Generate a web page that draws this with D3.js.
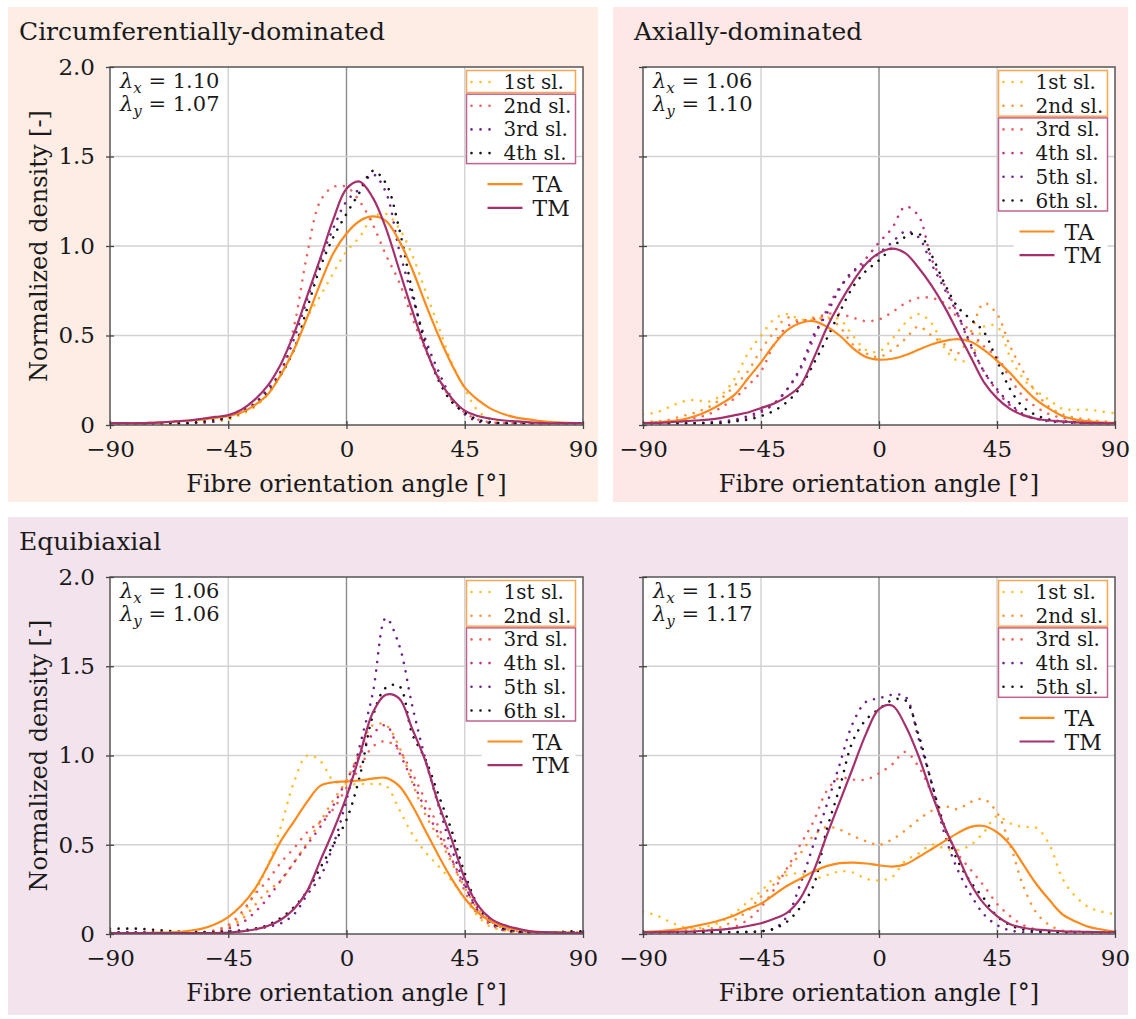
<!DOCTYPE html>
<html>
<head>
<meta charset="utf-8">
<script src="https://cdnjs.cloudflare.com/ajax/libs/d3/7.8.5/d3.min.js"></script>
<style>
  body { margin: 0; background: #fff; }
  svg text { font-family: "DejaVu Serif", serif; fill: #1a1a1a; }
</style>
</head>
<body>
<svg id="chart" width="1136" height="1019"></svg>
<script>
// fibre angles (deg), sampled every 5 degrees
const angles = [-90,-85,-80,-75,-70,-65,-60,-55,-50,-45,-40,-35,-30,-25,-20,-15,-10,-5,0,
                5,10,15,20,25,30,35,40,45,50,55,60,65,70,75,80,85,90];

// circumferentially-dominated
const circSl1 = [0.005,0.005,0.005,0.005,0.005,0.008,0.01,0.015,0.02,0.03,0.06,0.1,0.17,0.28,0.42,0.6,0.72,0.85,0.97,
                 1.05,1.16,1.18,1.1,0.95,0.75,0.55,0.35,0.2,0.08,0.03,0.015,0.01,0.01,0.01,0.01,0.01,0.01];
const circSl2 = [0.01,0.01,0.01,0.01,0.01,0.01,0.01,0.01,0.02,0.04,0.07,0.12,0.2,0.3,0.55,0.95,1.25,1.33,1.33,
                 1.25,1.12,0.95,0.8,0.6,0.42,0.27,0.14,0.07,0.03,0.015,0.01,0.01,0.01,0.01,0.01,0.01,0.01];
const circSl3 = [0.01,0.01,0.01,0.01,0.01,0.01,0.01,0.015,0.02,0.05,0.08,0.12,0.2,0.3,0.48,0.7,0.92,1.1,1.25,
                 1.32,1.4,1.3,0.98,0.72,0.48,0.3,0.15,0.06,0.02,0.01,0.01,0.01,0.01,0.01,0.01,0.01,0.01];
const circSl4 = [0.01,0.01,0.01,0.01,0.01,0.01,0.01,0.02,0.03,0.04,0.07,0.11,0.18,0.28,0.42,0.65,0.88,1.05,1.18,
                 1.3,1.42,1.35,1.1,0.75,0.45,0.25,0.13,0.07,0.03,0.015,0.01,0.01,0.01,0.01,0.01,0.01,0.01];
const circTA = [0.01,0.01,0.01,0.012,0.015,0.02,0.025,0.03,0.04,0.05,0.07,0.11,0.17,0.28,0.42,0.6,0.79,0.96,1.07,
                1.14,1.165,1.14,1.03,0.87,0.68,0.5,0.34,0.21,0.14,0.09,0.06,0.04,0.03,0.02,0.015,0.012,0.01];
const circTM = [0.01,0.01,0.01,0.012,0.015,0.02,0.025,0.035,0.045,0.055,0.085,0.14,0.22,0.34,0.51,0.72,0.93,1.15,1.32,
                1.36,1.27,1.1,0.87,0.64,0.43,0.26,0.15,0.08,0.05,0.035,0.025,0.02,0.015,0.01,0.01,0.01,0.01];

// axially-dominated
const axSl1 = [0.06,0.07,0.1,0.13,0.14,0.13,0.17,0.26,0.4,0.5,0.59,0.62,0.59,0.59,0.6,0.59,0.5,0.42,0.41,
               0.48,0.57,0.62,0.57,0.43,0.36,0.37,0.55,0.55,0.38,0.26,0.19,0.14,0.09,0.085,0.085,0.075,0.065];
const axSl2 = [0.02,0.02,0.03,0.05,0.07,0.1,0.15,0.22,0.3,0.42,0.52,0.6,0.58,0.6,0.6,0.55,0.45,0.4,0.38,
               0.42,0.48,0.55,0.5,0.45,0.4,0.52,0.68,0.62,0.44,0.3,0.18,0.1,0.06,0.04,0.03,0.02,0.02];
const axSl3 = [0.01,0.01,0.02,0.03,0.04,0.06,0.1,0.15,0.22,0.3,0.45,0.55,0.58,0.59,0.62,0.62,0.6,0.58,0.59,
               0.63,0.68,0.71,0.71,0.68,0.6,0.52,0.44,0.38,0.26,0.16,0.1,0.06,0.04,0.03,0.02,0.01,0.01];
const axSl4 = [0.01,0.01,0.01,0.01,0.01,0.01,0.015,0.025,0.04,0.07,0.12,0.2,0.31,0.48,0.64,0.77,0.85,0.93,1.02,
               1.1,1.22,1.17,0.93,0.78,0.62,0.44,0.3,0.19,0.11,0.055,0.035,0.025,0.02,0.015,0.01,0.01,0.01];
const axSl5 = [0.01,0.01,0.01,0.01,0.01,0.015,0.02,0.03,0.05,0.08,0.12,0.2,0.32,0.5,0.62,0.76,0.86,0.9,0.96,
               1.02,1.08,1.05,0.9,0.76,0.62,0.45,0.3,0.2,0.12,0.06,0.035,0.02,0.015,0.01,0.01,0.01,0.01];
const axSl6 = [0.01,0.01,0.01,0.01,0.01,0.01,0.01,0.02,0.03,0.05,0.08,0.13,0.21,0.34,0.48,0.63,0.77,0.86,0.92,
               0.99,1.05,1.07,0.95,0.79,0.66,0.59,0.52,0.36,0.2,0.1,0.055,0.03,0.02,0.015,0.01,0.01,0.01];
const axTA = [0.01,0.015,0.02,0.03,0.05,0.08,0.12,0.17,0.26,0.35,0.45,0.53,0.57,0.58,0.55,0.5,0.43,0.38,0.365,
              0.37,0.39,0.42,0.45,0.47,0.48,0.465,0.42,0.36,0.29,0.21,0.14,0.09,0.05,0.03,0.02,0.015,0.01];
const axTM = [0.01,0.012,0.015,0.02,0.025,0.03,0.04,0.055,0.07,0.095,0.12,0.16,0.22,0.37,0.54,0.68,0.8,0.9,0.96,
              0.985,0.96,0.88,0.78,0.66,0.52,0.38,0.24,0.15,0.09,0.055,0.035,0.025,0.02,0.015,0.012,0.01,0.01];

// equibiaxial, lambda 1.06 / 1.06
const eqSl1 = [0.01,0.01,0.01,0.01,0.01,0.01,0.01,0.01,0.02,0.05,0.1,0.23,0.38,0.6,0.85,1.0,0.97,0.86,0.84,
               0.84,0.84,0.83,0.7,0.56,0.46,0.38,0.3,0.2,0.1,0.04,0.02,0.01,0.01,0.01,0.01,0.01,0.01];
const eqSl2 = [0.01,0.01,0.01,0.01,0.01,0.01,0.01,0.01,0.02,0.04,0.08,0.16,0.24,0.3,0.4,0.51,0.63,0.75,0.86,
               1.02,1.17,1.17,1.05,0.85,0.67,0.54,0.4,0.26,0.14,0.07,0.03,0.015,0.01,0.01,0.01,0.01,0.01];
const eqSl3 = [0.01,0.01,0.01,0.01,0.01,0.01,0.01,0.01,0.02,0.05,0.12,0.22,0.3,0.4,0.48,0.57,0.63,0.7,0.82,
               0.93,1.05,1.08,1.03,0.9,0.75,0.6,0.42,0.24,0.11,0.05,0.02,0.01,0.01,0.01,0.01,0.01,0.01];
const eqSl4 = [0.01,0.01,0.01,0.01,0.01,0.01,0.01,0.01,0.01,0.03,0.06,0.12,0.2,0.3,0.4,0.5,0.6,0.72,0.86,
               1.0,1.12,1.17,1.02,0.86,0.7,0.56,0.42,0.27,0.14,0.06,0.02,0.01,0.01,0.01,0.01,0.01,0.01];
const eqSl5 = [0.01,0.01,0.01,0.01,0.01,0.01,0.01,0.01,0.01,0.01,0.015,0.025,0.04,0.06,0.11,0.22,0.32,0.5,0.75,
               1.05,1.35,1.77,1.62,1.28,0.98,0.72,0.48,0.28,0.13,0.065,0.03,0.015,0.01,0.01,0.01,0.01,0.01];
const eqSl6 = [0.03,0.03,0.03,0.025,0.02,0.015,0.01,0.01,0.01,0.015,0.02,0.03,0.05,0.09,0.15,0.24,0.37,0.5,0.64,
               0.88,1.22,1.38,1.39,1.12,0.98,0.78,0.58,0.34,0.16,0.07,0.03,0.015,0.01,0.01,0.01,0.015,0.015];
const eqTA = [0.005,0.005,0.005,0.006,0.008,0.01,0.018,0.03,0.055,0.095,0.16,0.25,0.38,0.52,0.63,0.74,0.83,0.85,0.855,
              0.86,0.87,0.875,0.83,0.72,0.58,0.44,0.31,0.2,0.12,0.07,0.04,0.025,0.015,0.01,0.008,0.006,0.005];
const eqTM = [0.005,0.005,0.005,0.005,0.005,0.005,0.005,0.005,0.005,0.008,0.015,0.025,0.045,0.08,0.14,0.24,0.41,0.58,0.77,
              1.0,1.24,1.34,1.32,1.15,0.97,0.73,0.53,0.31,0.16,0.085,0.05,0.03,0.015,0.01,0.008,0.005,0.005];

// equibiaxial, lambda 1.15 / 1.17
const eq2Sl1 = [0.125,0.105,0.07,0.04,0.03,0.045,0.07,0.12,0.18,0.24,0.31,0.33,0.34,0.31,0.33,0.35,0.345,0.31,0.3,
                0.32,0.41,0.45,0.5,0.48,0.47,0.5,0.57,0.66,0.62,0.6,0.595,0.5,0.31,0.21,0.15,0.125,0.11];
const eq2Sl2 = [0.01,0.01,0.015,0.02,0.025,0.03,0.04,0.08,0.13,0.21,0.28,0.36,0.45,0.55,0.6,0.585,0.55,0.52,0.5,
                0.53,0.58,0.64,0.69,0.715,0.7,0.74,0.755,0.68,0.5,0.27,0.12,0.05,0.02,0.015,0.01,0.01,0.01];
const eq2Sl3 = [0.01,0.01,0.01,0.01,0.01,0.01,0.02,0.04,0.08,0.15,0.25,0.37,0.5,0.63,0.8,0.875,0.865,0.865,0.9,
                0.95,1.02,0.94,0.79,0.6,0.45,0.36,0.27,0.17,0.1,0.05,0.025,0.015,0.01,0.01,0.01,0.01,0.01];
const eq2Sl4 = [0.01,0.01,0.01,0.01,0.01,0.01,0.01,0.01,0.01,0.015,0.03,0.1,0.28,0.5,0.72,0.95,1.18,1.3,1.32,
                1.34,1.33,1.1,0.85,0.56,0.36,0.22,0.11,0.05,0.02,0.01,0.01,0.01,0.01,0.01,0.01,0.01,0.01];
const eq2Sl5 = [0.01,0.01,0.01,0.01,0.01,0.01,0.01,0.01,0.012,0.015,0.03,0.07,0.15,0.27,0.58,0.82,1.08,1.2,1.26,
                1.31,1.31,1.12,0.85,0.6,0.41,0.29,0.2,0.1,0.05,0.025,0.015,0.01,0.01,0.01,0.01,0.01,0.01];
const eq2TA = [0.01,0.015,0.02,0.03,0.045,0.06,0.08,0.105,0.14,0.17,0.22,0.27,0.31,0.35,0.38,0.397,0.4,0.395,0.385,
               0.378,0.39,0.43,0.475,0.52,0.565,0.6,0.605,0.57,0.5,0.39,0.28,0.19,0.11,0.07,0.04,0.025,0.013];
const eq2TM = [0.01,0.01,0.012,0.013,0.015,0.02,0.025,0.033,0.045,0.06,0.085,0.12,0.2,0.35,0.55,0.74,0.93,1.12,1.26,
               1.28,1.17,1.0,0.79,0.6,0.44,0.28,0.17,0.1,0.055,0.035,0.025,0.02,0.015,0.013,0.012,0.01,0.01];

const sliceNames = ["1st sl.","2nd sl.","3rd sl.","4th sl.","5th sl.","6th sl."];
const xTicks = [-90,-45,0,45,90];
const yTicks = [0,0.5,1.0,1.5,2.0];

const C = {gold:"#fcc02c", orange:"#ff9333", red:"#f0605c", magenta:"#c2327a",
           purple:"#6a2488", black:"#151515", TA:"#ff8a1c", TM:"#a5306c",
           boxTA:"#ffa54f", boxTM:"#c0648f"};

const panels = [
  {x0:110, x1:583, top:67, bot:425, ylab:true, lx:"1.10", ly:"1.07",
   taSl:[circSl1], tmSl:[circSl2,circSl3,circSl4],
   taCol:[C.gold], tmCol:[C.red,C.purple,C.black], ta:circTA, tm:circTM},
  {x0:643, x1:1115, top:67, bot:425, ylab:false, lx:"1.06", ly:"1.10",
   taSl:[axSl1,axSl2], tmSl:[axSl3,axSl4,axSl5,axSl6],
   taCol:[C.gold,C.orange], tmCol:[C.red,C.magenta,C.purple,C.black], ta:axTA, tm:axTM},
  {x0:110, x1:583, top:577, bot:934, ylab:true, lx:"1.06", ly:"1.06",
   taSl:[eqSl1,eqSl2], tmSl:[eqSl3,eqSl4,eqSl5,eqSl6],
   taCol:[C.gold,C.orange], tmCol:[C.red,C.magenta,C.purple,C.black], ta:eqTA, tm:eqTM},
  {x0:643, x1:1115, top:577, bot:934, ylab:false, lx:"1.15", ly:"1.17",
   taSl:[eq2Sl1,eq2Sl2], tmSl:[eq2Sl3,eq2Sl4,eq2Sl5],
   taCol:[C.gold,C.orange], tmCol:[C.red,C.purple,C.black], ta:eq2TA, tm:eq2TM}
];

const svg = d3.select("#chart");

// coloured panel backgrounds
svg.append("rect").attr("x",8).attr("y",7).attr("width",590).attr("height",495).attr("fill","#fdede5");
svg.append("rect").attr("x",613).attr("y",7).attr("width",515).attr("height",495).attr("fill","#fde8e7");
svg.append("rect").attr("x",8).attr("y",517).attr("width",1120).attr("height",498).attr("fill","#f2e3ed");

svg.append("text").attr("x",19).attr("y",40).attr("font-size",25).text("Circumferentially-dominated");
svg.append("text").attr("x",634).attr("y",40).attr("font-size",25).text("Axially-dominated");
svg.append("text").attr("x",19).attr("y",550).attr("font-size",25).text("Equibiaxial");

panels.forEach((p, pi) => {
  const x = d3.scaleLinear().domain([-90,90]).range([p.x0,p.x1]);
  const y = d3.scaleLinear().domain([0,2]).range([p.bot,p.top]);
  const g = svg.append("g");

  g.append("rect").attr("x",p.x0).attr("y",p.top)
    .attr("width",p.x1-p.x0).attr("height",p.bot-p.top).attr("fill","#fff");

  // grid
  g.selectAll(".gx").data(xTicks.slice(1,-1)).enter().append("line")
    .attr("x1",d=>x(d)).attr("x2",d=>x(d)).attr("y1",p.top).attr("y2",p.bot)
    .attr("stroke",d=>d===0?"#8a8a8a":"#d2d2d2").attr("stroke-width",1.4);
  g.selectAll(".gy").data(yTicks.slice(1,-1)).enter().append("line")
    .attr("x1",p.x0).attr("x2",p.x1).attr("y1",d=>y(d)).attr("y2",d=>y(d))
    .attr("stroke","#d2d2d2").attr("stroke-width",1.4);

  const clipId = "clip"+pi;
  g.append("clipPath").attr("id",clipId).append("rect")
    .attr("x",p.x0).attr("y",p.top).attr("width",p.x1-p.x0).attr("height",p.bot-p.top);

  const line = d3.line().x((d,i)=>x(angles[i])).y(d=>y(Math.max(d,0.003)))
    .curve(d3.curveCatmullRom.alpha(0.5));
  const plot = g.append("g").attr("clip-path",`url(#${clipId})`);

  const slices = p.taSl.concat(p.tmSl);
  const cols = p.taCol.concat(p.tmCol);
  slices.forEach((s,i) => {
    plot.append("path").attr("d",line(s)).attr("fill","none")
      .attr("stroke",cols[i]).attr("stroke-width",2.6)
      .attr("stroke-linecap","round").attr("stroke-dasharray","0.01 8.6");
  });
  plot.append("path").attr("d",line(p.ta)).attr("fill","none").attr("stroke",C.TA).attr("stroke-width",2.2);
  plot.append("path").attr("d",line(p.tm)).attr("fill","none").attr("stroke",C.TM).attr("stroke-width",2.2);

  // frame
  g.append("rect").attr("x",p.x0).attr("y",p.top)
    .attr("width",p.x1-p.x0).attr("height",p.bot-p.top)
    .attr("fill","none").attr("stroke","#555").attr("stroke-width",1.5);

  // axes
  const xAxis = g.append("g").attr("transform",`translate(0,${p.bot})`)
    .call(d3.axisBottom(x).tickValues(xTicks).tickSize(4).tickPadding(12));
  xAxis.select(".domain").remove();
  xAxis.selectAll(".tick line").attr("stroke","#444").attr("y1",-4).attr("stroke-width",1.3);
  xAxis.selectAll("text").attr("font-size",23).attr("font-family","DejaVu Serif").attr("fill","#1a1a1a");

  const yAxis = g.append("g").attr("transform",`translate(${p.x0},0)`)
    .call(d3.axisLeft(y).tickValues(yTicks).tickSize(4).tickPadding(11)
      .tickFormat(d => d===0 ? "0" : d3.format(".1f")(d)));
  yAxis.select(".domain").remove();
  yAxis.selectAll(".tick line").attr("stroke","#444").attr("x1",4).attr("stroke-width",1.3);
  yAxis.selectAll("text").attr("font-size",23).attr("font-family","DejaVu Serif").attr("fill","#1a1a1a");
  if (!p.ylab) yAxis.selectAll("text").remove();

  g.append("text").attr("x",(p.x0+p.x1)/2).attr("y",p.bot+67).attr("text-anchor","middle")
    .attr("font-size",24).text("Fibre orientation angle [°]");
  if (p.ylab) {
    g.append("text").attr("transform",`translate(47,${(p.top+p.bot)/2}) rotate(-90)`)
      .attr("text-anchor","middle").attr("font-size",24).text("Normalized density [-]");
  }

  // stretch annotation
  [["x",p.lx,21],["y",p.ly,44]].forEach(([sub,val,dy]) => {
    const t = g.append("text").attr("x",p.x0+10).attr("y",p.top+dy).attr("font-size",21);
    t.append("tspan").attr("font-style","italic").text("λ");
    t.append("tspan").attr("font-style","italic").attr("font-size",15).attr("dy",5).text(sub);
    t.append("tspan").attr("dy",-5).text(" = "+val);
  });

  // legend
  const step = 23.7;
  const bw = 109, bx = p.x1 - 7.5 - bw;
  let row = 0;
  const drawGroup = (arr, colors, boxCol, startIdx) => {
    const r0 = p.top + 15 + step*row;
    const r1 = r0 + step*(arr.length-1);
    g.append("rect").attr("x",bx).attr("y",r0-11.5).attr("width",bw).attr("height",r1-r0+22)
      .attr("fill","#fff").attr("stroke",boxCol).attr("stroke-width",1.5);
    arr.forEach((s,i) => {
      const cy = r0 + step*i;
      g.append("line").attr("x1",bx+5).attr("x2",bx+32).attr("y1",cy).attr("y2",cy)
        .attr("stroke",colors[i]).attr("stroke-width",2.6).attr("stroke-linecap","round")
        .attr("stroke-dasharray","0.01 9");
      g.append("text").attr("x",bx+37).attr("y",cy+7).attr("font-size",20)
        .text(sliceNames[startIdx+i]);
    });
    row += arr.length;
  };
  drawGroup(p.taSl, p.taCol, C.boxTA, 0);
  drawGroup(p.tmSl, p.tmCol, C.boxTM, p.taSl.length);

  const ly0 = p.top + 15 + step*(row-1) + 31;
  g.append("rect").attr("x",bx+15).attr("y",ly0-12).attr("width",bw-15).attr("height",step+24).attr("fill","#fff");
  [["TA",C.TA],["TM",C.TM]].forEach(([name,col],i) => {
    const cy = ly0 + step*i;
    g.append("line").attr("x1",bx+21).attr("x2",bx+56).attr("y1",cy).attr("y2",cy)
      .attr("stroke",col).attr("stroke-width",2.2);
    g.append("text").attr("x",bx+66).attr("y",cy+8).attr("font-size",22).text(name);
  });
});
</script>
</body>
</html>
